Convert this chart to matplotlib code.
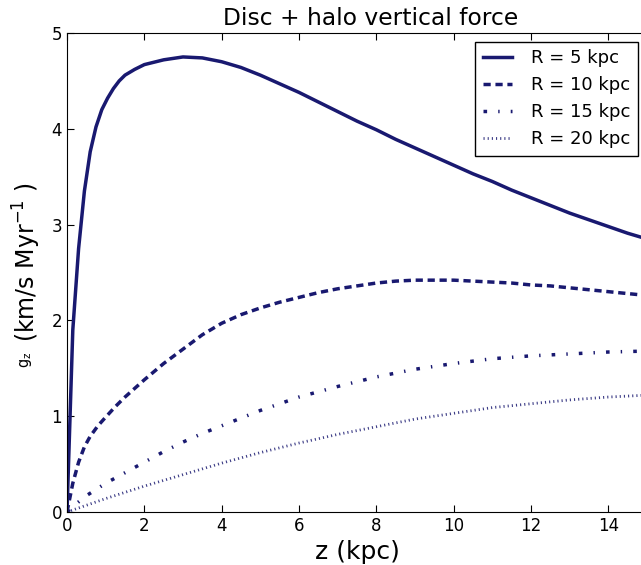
import numpy as np
import matplotlib
matplotlib.use("Agg")
import matplotlib.pyplot as plt

plt.rcParams['mathtext.default'] = 'regular'
plt.rcParams['xtick.direction'] = 'in'
plt.rcParams['ytick.direction'] = 'in'
plt.rcParams['xtick.top'] = True
plt.rcParams['lines.scale_dashes'] = False

# vertical force g_z (km/s/Myr) against height z (kpc) at four radii
z_r5 = [0.0, 0.15, 0.3, 0.45, 0.6, 0.75, 0.9, 1.05, 1.2, 1.35, 1.5, 1.75, 2.0, 2.5, 3.0, 3.5,
        4.0, 4.5, 5.0, 5.5, 6.0, 6.5, 7.0, 7.5, 8.0, 8.5, 9.0, 9.5, 10.0, 10.5, 11.0, 11.5,
        12.0, 12.5, 13.0, 13.5, 14.0, 14.5, 15.0]
g_r5 = [0.0, 1.9, 2.75, 3.35, 3.76, 4.02, 4.2, 4.32, 4.42, 4.5, 4.56, 4.62, 4.67, 4.72, 4.75, 4.74,
        4.7, 4.64, 4.56, 4.47, 4.38, 4.28, 4.18, 4.08, 3.99, 3.89, 3.8, 3.71, 3.62, 3.53, 3.45, 3.36,
        3.28, 3.2, 3.12, 3.05, 2.98, 2.91, 2.85]

z_r10 = [0.0, 0.15, 0.3, 0.45, 0.6, 0.8, 1.0, 1.25, 1.5, 1.75, 2.0, 2.5, 3.0, 3.5, 4.0, 4.5,
         5.0, 5.5, 6.0, 6.5, 7.0, 7.5, 8.0, 8.5, 9.0, 9.5, 10.0, 10.5, 11.0, 11.5, 12.0, 12.5,
         13.0, 13.5, 14.0, 14.5, 15.0]
g_r10 = [0.0, 0.3, 0.52, 0.68, 0.79, 0.9, 0.99, 1.1, 1.2, 1.29, 1.38, 1.55, 1.7, 1.85, 1.97, 2.06,
         2.13, 2.19, 2.24, 2.29, 2.33, 2.36, 2.39, 2.41, 2.42, 2.42, 2.42, 2.41, 2.4, 2.39, 2.37, 2.36,
         2.34, 2.32, 2.3, 2.28, 2.26]

z_r15 = [0.0, 0.25, 0.5, 1.0, 1.5, 2.0, 2.5, 3.0, 3.5, 4.0, 4.5, 5.0, 5.5, 6.0, 7.0, 8.0,
         9.0, 10.0, 11.0, 12.0, 13.0, 14.0, 15.0]
g_r15 = [0.0, 0.09, 0.17, 0.3, 0.41, 0.52, 0.63, 0.73, 0.82, 0.9, 0.98, 1.06, 1.13, 1.2, 1.31, 1.41,
         1.49, 1.55, 1.6, 1.63, 1.65, 1.67, 1.68]

z_r20 = [0.0, 0.5, 1.0, 2.0, 3.0, 4.0, 5.0, 6.0, 7.0, 8.0, 9.0, 10.0, 11.0, 12.0, 13.0, 14.0, 15.0]
g_r20 = [0.0, 0.07, 0.14, 0.27, 0.39, 0.51, 0.62, 0.72, 0.81, 0.89, 0.97, 1.03, 1.09, 1.13, 1.17, 1.2, 1.22]

labels = ['R = 5 kpc', 'R = 10 kpc', 'R = 15 kpc', 'R = 20 kpc']

col = 'midnightblue'

fig = plt.figure(figsize=(6.41, 5.65), dpi=100)
ax = fig.add_axes([67 / 641, 53 / 565, 580 / 641, 479 / 565])

ax.plot(z_r5, g_r5, color=col, ls='-', lw=2.5, label=labels[0])
ax.plot(z_r10, g_r10, color=col, lw=2.5, dashes=(5.2, 3.4), label=labels[1])
ax.plot(z_r15, g_r15, color=col, lw=2.5, dashes=(2.6, 8.0, 1.0, 8.0), label=labels[2])
ax.plot(z_r20, g_r20, color=col, lw=2.0, dashes=(0.8, 2.2), alpha=0.85, label=labels[3])

ax.set_xlim(0, 15)
ax.set_ylim(0, 5)
ax.set_xticks([0, 2, 4, 6, 8, 10, 12, 14])
ax.set_yticks([0, 1, 2, 3, 4, 5])
ax.tick_params(labelsize=12, length=5)
ax.tick_params(axis='y', right=False)

ax.set_title('Disc + halo vertical force', fontsize=16.8, x=0.524)
ax.set_xlabel('z (kpc)', fontsize=18)

# y label: small g_z symbol below the unit text
fig.text(27 / 641, 1 - 262 / 565, '(km/s Myr$^{-1}$ )', rotation=90,
         ha='center', va='center', fontsize=17)
fig.text(26 / 641, 1 - 360 / 565, '$g_z$', rotation=90,
         ha='center', va='center', fontsize=10.5)

leg = ax.legend(loc='upper right', fontsize=13, fancybox=False, framealpha=1,
                handlelength=1.6, handletextpad=1.1)
leg.get_frame().set_edgecolor('black')

fig.savefig('out.png', dpi=100)
